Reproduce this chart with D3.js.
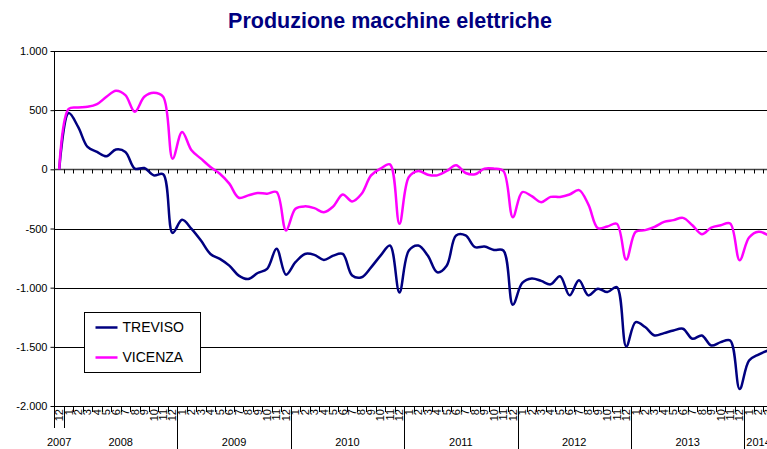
<!DOCTYPE html>
<html>
<head>
<meta charset="utf-8">
<script src="https://cdn.jsdelivr.net/npm/d3@7"></script>
<style>
  body { margin: 0; background: #fff; }
  svg { display: block; font-family: "Liberation Sans", Arial, sans-serif; }
</style>
</head>
<body>
<svg id="chart" width="767" height="449"></svg>
<script>
// categories: Dec 2007 .. Mar 2014, month number + year
const months = [12,
  1,2,3,4,5,6,7,8,9,10,11,12,
  1,2,3,4,5,6,7,8,9,10,11,12,
  1,2,3,4,5,6,7,8,9,10,11,12,
  1,2,3,4,5,6,7,8,9,10,11,12,
  1,2,3,4,5,6,7,8,9,10,11,12,
  1,2,3,4,5,6,7,8,9,10,11,12,
  1,2,3];
const years = ["2007", "2008", "2009", "2010", "2011", "2012", "2013", "2014"];
const monthsInYear = [1, 12, 12, 12, 12, 12, 12, 3];

const treviso = [0,
  475, 359, 189, 147, 110, 167, 147, 6, 11, -51, -42, -537,
  -427, -503, -602, -715, -757, -814, -898, -927, -876, -842, -672, -890,
  -785, -715, -723, -766, -729, -715, -898, -912, -828, -729, -644, -1040,
  -686, -644, -729, -870, -814, -559, -559, -658, -653, -681, -686, -1144,
  -960, -923, -943, -972, -903, -1065, -937, -1065, -1009, -1037, -995, -1497,
  -1291, -1333, -1404, -1384, -1362, -1347, -1432, -1404, -1489, -1460, -1446, -1856,
  -1616, -1565, -1531];
const vicenza = [0,
  510, 522, 528, 551, 613, 664, 627, 486, 613, 647, 613, 90,
  316, 161, 90, 20, -37, -121, -240, -220, -200, -206, -192, -517,
  -333, -313, -328, -362, -313, -212, -271, -206, -51, 6, 42, -460,
  -65, -14, -45, -51, -14, 34, -31, -42, 6, 6, -14, -404,
  -192, -227, -278, -233, -233, -213, -176, -298, -497, -483, -460, -763,
  -528, -514, -486, -444, -429, -410, -472, -548, -492, -472, -458, -768,
  -576, -528, -556];
const yTicks = [-2000, -1500, -1000, -500, 0, 500, 1000];

const seriesList = [
  { name: "TREVISO", values: treviso, color: "#000080" },
  { name: "VICENZA", values: vicenza, color: "#FF00FF" }
];

const svg = d3.select("#chart");
const plotLeft = 54.5, step = 9.45, plotTop = 51, plotBottom = 406;

const x = d3.scaleBand()
  .domain(d3.range(months.length))
  .range([plotLeft, plotLeft + step * months.length])
  .paddingInner(0).paddingOuter(0);

const y = d3.scaleLinear().domain([-2000, 1000]).range([plotBottom, plotTop]);

const itFormat = d3.formatLocale({
  decimal: ",", thousands: ".", grouping: [3], currency: ["", ""], minus: "-"
}).format(",");

// Title
svg.append("text")
  .attr("x", 390).attr("y", 28)
  .attr("text-anchor", "middle")
  .attr("font-size", 21.5).attr("font-weight", "bold")
  .attr("fill", "#000080")
  .text("Produzione macchine elettriche");

// Gridlines
svg.append("g")
  .selectAll("line")
  .data(yTicks.filter(d => d !== 0))
  .join("line")
  .attr("x1", plotLeft).attr("x2", 767)
  .attr("y1", d => Math.round(y(d)) + 0.5).attr("y2", d => Math.round(y(d)) + 0.5)
  .attr("stroke", "#000").attr("stroke-width", 1);

// Y axis
const yAxis = svg.append("g")
  .attr("transform", `translate(${plotLeft},0)`)
  .call(d3.axisLeft(y).tickValues(yTicks).tickSize(4).tickFormat(itFormat));
yAxis.select(".domain").remove();
yAxis.selectAll("line").attr("stroke", "#000");
yAxis.selectAll("text").attr("font-size", 11).attr("fill", "#000").attr("x", -7)
  .attr("font-family", "Liberation Sans, Arial, sans-serif");
svg.append("line")
  .attr("x1", plotLeft).attr("x2", plotLeft)
  .attr("y1", plotTop).attr("y2", 428)
  .attr("stroke", "#000");

// Zero axis with tick marks at category boundaries
const zeroY = Math.round(y(0)) + 0.5;
svg.append("line")
  .attr("x1", plotLeft).attr("x2", 767)
  .attr("y1", zeroY).attr("y2", zeroY)
  .attr("stroke", "#444").attr("stroke-width", 1.5);
svg.append("g")
  .selectAll("line")
  .data(d3.range(1, months.length + 1))
  .join("line")
  .attr("x1", d => Math.round(x(d - 1) + step) + 0.5)
  .attr("x2", d => Math.round(x(d - 1) + step) + 0.5)
  .attr("y1", zeroY).attr("y2", zeroY + 4)
  .attr("stroke", "#000");

// Month labels at bottom
const bottomTicks = svg.append("g");
bottomTicks.selectAll("line.mt")
  .data(d3.range(1, months.length + 1))
  .join("line")
  .attr("class", "mt")
  .attr("x1", d => Math.round(x(d - 1) + step) + 0.5)
  .attr("x2", d => Math.round(x(d - 1) + step) + 0.5)
  .attr("y1", plotBottom).attr("y2", plotBottom + 6)
  .attr("stroke", "#000");
bottomTicks.selectAll("text")
  .data(months)
  .join("text")
  .attr("transform", (d, i) => `translate(${x(i) + step / 2},${plotBottom + 3}) rotate(-90)`)
  .attr("dy", "0.35em")
  .attr("text-anchor", "end")
  .attr("font-size", 11)
  .text(d => d);

// Year groups
let start = 0;
const yearSpans = years.map((yr, k) => {
  const s = start;
  start += monthsInYear[k];
  return { year: yr, first: s, last: start - 1 };
});
svg.append("g")
  .selectAll("line")
  .data(yearSpans.slice(1))
  .join("line")
  .attr("x1", d => Math.round(x(d.first)) + 0.5)
  .attr("x2", d => Math.round(x(d.first)) + 0.5)
  .attr("y1", plotBottom)
  .attr("y2", (d, i) => i === 0 ? 428 : 449)
  .attr("stroke", "#000");
svg.append("g")
  .selectAll("text")
  .data(yearSpans)
  .join("text")
  .attr("x", d => (x(d.first) + x(d.last) + step) / 2)
  .attr("y", 446)
  .attr("text-anchor", "middle")
  .attr("font-size", 11)
  .text(d => d.year);

// Series lines
const line = d3.line()
  .x((d, i) => x(i) + step / 2)
  .y(d => y(d))
  .curve(d3.curveCatmullRom.alpha(0.5));

svg.append("g")
  .selectAll("path")
  .data(seriesList)
  .join("path")
  .attr("d", d => line(d.values))
  .attr("fill", "none")
  .attr("stroke", d => d.color)
  .attr("stroke-width", 2.5)
  .attr("stroke-linejoin", "round");

// Legend
const legend = svg.append("g").attr("transform", "translate(84.5,312.5)");
legend.append("rect")
  .attr("width", 116).attr("height", 60)
  .attr("fill", "#fff").attr("stroke", "#000");
const items = legend.selectAll("g")
  .data(seriesList)
  .join("g")
  .attr("transform", (d, i) => `translate(0,${15 + i * 30})`);
items.append("line")
  .attr("x1", 11).attr("x2", 33)
  .attr("stroke", d => d.color).attr("stroke-width", 2.5);
items.append("text")
  .attr("x", 38).attr("dy", "0.35em")
  .attr("font-size", 14)
  .text(d => d.name);
</script>
</body>
</html>
